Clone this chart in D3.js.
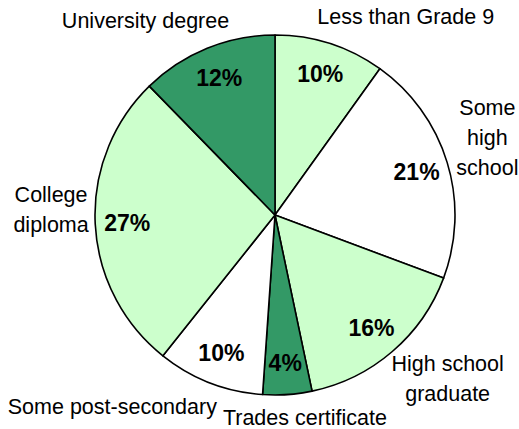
<!DOCTYPE html>
<html>
<head>
<meta charset="utf-8">
<script src="https://cdn.jsdelivr.net/npm/d3@7"></script>
<style>
  html, body { margin: 0; padding: 0; background: #fff; }
  text { font-family: "Liberation Sans", Arial, sans-serif; fill: #000; }
</style>
</head>
<body>
<svg id="chart"></svg>
<script>
// Education levels, clockwise from 12 o'clock
const categories = [
  "Less than Grade 9",
  "Some high school",
  "High school graduate",
  "Trades certificate",
  "Some post-secondary",
  "College diploma",
  "University degree"
];
// share of respondents (%)
const shares = [9.9, 20.8, 16.0, 4.4, 9.6, 27.0, 12.3];
// how each category name is broken into lines
const labelLines = [
  ["Less than Grade 9"],
  ["Some", "high", "school"],
  ["High school", "graduate"],
  ["Trades certificate"],
  ["Some post-secondary"],
  ["College", "diploma"],
  ["University degree"]
];

// Layout
const W = 519, H = 429;
const cx = 275, cy = 215, R = 180;
const pctRadius = 148;
// outside label placement (angle in degrees clockwise from top, radius)
const labelPlace = [
  { a: 33.3, r: 238 },
  { a: 70.0, r: 226 },
  { a: 133.5, r: 238 },
  { a: 171.6, r: 205 },
  { a: 220.4, r: 251 },
  { a: 271.3, r: 224 },
  { a: 326.4, r: 234 }
];

const color = d3.scaleOrdinal()
  .domain(categories)
  .range(["#ccffcc", "#ffffff", "#ccffcc", "#339966", "#ffffff", "#ccffcc", "#339966"]);

const svg = d3.select("#chart")
  .attr("width", W)
  .attr("height", H);

const g = svg.append("g")
  .attr("transform", `translate(${cx},${cy})`);

const data = categories.map((c, i) => ({ name: c, value: shares[i], lines: labelLines[i], place: labelPlace[i] }));

const pie = d3.pie()
  .value(d => d.value)
  .sort(null);

const arcs = pie(data);

const arc = d3.arc().innerRadius(0).outerRadius(R);
const pctArc = d3.arc().innerRadius(pctRadius).outerRadius(pctRadius);

// slices
g.selectAll("path.slice")
  .data(arcs)
  .join("path")
  .attr("class", "slice")
  .attr("d", arc)
  .attr("fill", d => color(d.data.name))
  .attr("stroke", "#000")
  .attr("stroke-width", 1.6)
  .attr("stroke-linejoin", "round");

// percentage labels
g.selectAll("text.pct")
  .data(arcs)
  .join("text")
  .attr("class", "pct")
  .attr("transform", d => `translate(${pctArc.centroid(d)})`)
  .attr("text-anchor", "middle")
  .attr("dy", "0.36em")
  .style("font-size", "23px")
  .style("font-weight", "bold")
  .text(d => Math.round(d.data.value) + "%");

// category labels
const lineH = 30;
const lbl = g.selectAll("text.cat")
  .data(arcs)
  .join("text")
  .attr("class", "cat")
  .attr("text-anchor", "middle")
  .style("font-size", "21.5px")
  .attr("transform", d => {
    const a = d.data.place.a * Math.PI / 180;
    const x = Math.sin(a) * d.data.place.r;
    const y = -Math.cos(a) * d.data.place.r;
    return `translate(${x},${y})`;
  });

lbl.selectAll("tspan")
  .data(d => d.data.lines.map((t, i, arr) => ({ t, i, n: arr.length })))
  .join("tspan")
  .attr("x", 0)
  .attr("y", d => (d.i - (d.n - 1) / 2) * lineH)
  .attr("dy", "0.35em")
  .text(d => d.t);
</script>
</body>
</html>
